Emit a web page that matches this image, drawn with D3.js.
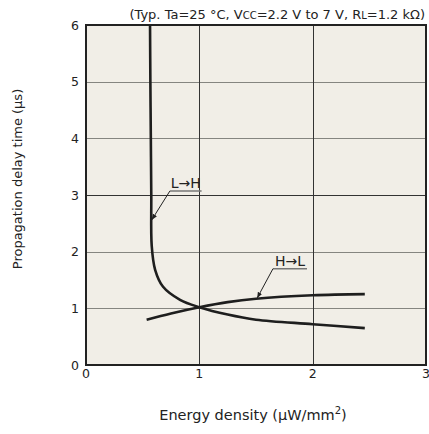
<!DOCTYPE html>
<html lang="en">
<head>
<meta charset="UTF-8">
<title>Propagation delay vs energy density</title>
<script src="https://d3js.org/d3.v7.min.js"></script>
<style>
 body { margin: 0; background: #fff; font-family: "DejaVu Sans", Verdana, sans-serif; }
 text { fill: #222; }
</style>
</head>
<body>
<div id="chart"></div>
<script>
// curve data
const lhX = [0.565, 0.568, 0.572, 0.576, 0.58, 0.61, 0.68, 0.83, 1.0, 1.25, 1.5, 2.0, 2.46];
const lhY = [6.0, 5.0, 4.0, 3.0, 2.1, 1.68, 1.38, 1.15, 1.02, 0.89, 0.8, 0.72, 0.65];
const hlX = [0.535, 0.75, 1.0, 1.25, 1.5, 2.0, 2.46];
const hlY = [0.80, 0.91, 1.02, 1.11, 1.17, 1.23, 1.25];
const xTicks = [0, 1, 2, 3];
const yTicks = [0, 1, 2, 3, 4, 5, 6];

const width = 429, height = 434;
const margin = { left: 86, right: 3, top: 25, bottom: 69 };

const svg = d3.select('#chart').append('svg')
  .attr('width', width)
  .attr('height', height);

const x = d3.scaleLinear().domain([0, 3]).range([margin.left, width - margin.right]);
const y = d3.scaleLinear().domain([0, 6]).range([height - margin.bottom, margin.top]);

// plot background
svg.append('rect')
  .attr('x', x(0)).attr('y', y(6))
  .attr('width', x(3) - x(0)).attr('height', y(0) - y(6))
  .attr('fill', '#f1eee7');

// grid
svg.selectAll('.hgrid')
  .data(yTicks.slice(1, -1))
  .enter().append('line')
  .attr('x1', x(0)).attr('x2', x(3))
  .attr('y1', d => Math.round(y(d)) + 0.5)
  .attr('y2', d => Math.round(y(d)) + 0.5)
  .attr('stroke', d => d === 3 ? '#333' : '#858580')
  .attr('stroke-width', 1.2);

svg.selectAll('.vgrid')
  .data(xTicks.slice(1, -1))
  .enter().append('line')
  .attr('y1', y(0)).attr('y2', y(6))
  .attr('x1', d => Math.round(x(d)) + 0.5)
  .attr('x2', d => Math.round(x(d)) + 0.5)
  .attr('stroke', '#333')
  .attr('stroke-width', 1);

// frame
svg.append('rect')
  .attr('x', x(0)).attr('y', y(6))
  .attr('width', x(3) - x(0)).attr('height', y(0) - y(6))
  .attr('fill', 'none')
  .attr('stroke', '#222')
  .attr('stroke-width', 2);

// tick labels
svg.selectAll('.ylab')
  .data(yTicks)
  .enter().append('text')
  .attr('x', x(0) - 7)
  .attr('y', d => y(d) + 4.5)
  .attr('text-anchor', 'end')
  .attr('font-size', 12.5)
  .text(d => d);

svg.selectAll('.xlab')
  .data(xTicks)
  .enter().append('text')
  .attr('x', d => x(d))
  .attr('y', y(0) + 13)
  .attr('text-anchor', 'middle')
  .attr('font-size', 12.5)
  .text(d => d);

// axis titles
svg.append('text')
  .attr('transform', `translate(22,${(90 + 268) / 2}) rotate(-90)`)
  .attr('text-anchor', 'middle')
  .attr('font-size', 13)
  .text('Propagation delay time (μs)');

const xt = svg.append('text')
  .attr('x', 253)
  .attr('y', 420)
  .attr('text-anchor', 'middle')
  .attr('font-size', 14.5);
xt.append('tspan').text('Energy density (μW/mm');
xt.append('tspan').attr('dy', -6).attr('font-size', 10).text('2');
xt.append('tspan').attr('dy', 6).text(')');

// condition note
const note = svg.append('text')
  .attr('x', x(3) - 1)
  .attr('y', 19)
  .attr('text-anchor', 'end')
  .attr('font-size', 13);
note.append('tspan').text('(Typ. Ta=25 °C, V');
note.append('tspan').attr('font-size', 10).text('CC');
note.append('tspan').text('=2.2 V to 7 V, R');
note.append('tspan').attr('font-size', 10).text('L');
note.append('tspan').text('=1.2 kΩ)');

// curves
const line = d3.line()
  .x(d => x(d[0]))
  .y(d => y(d[1]))
  .curve(d3.curveCatmullRom.alpha(0.5));

svg.append('path')
  .datum(d3.zip(lhX, lhY))
  .attr('d', line)
  .attr('fill', 'none')
  .attr('stroke', '#1e1e1e')
  .attr('stroke-width', 2.6);

svg.append('path')
  .datum(d3.zip(hlX, hlY))
  .attr('d', line)
  .attr('fill', 'none')
  .attr('stroke', '#1e1e1e')
  .attr('stroke-width', 2.6);

// annotation leaders
svg.append('defs').append('marker')
  .attr('id', 'arr')
  .attr('viewBox', '0 0 10 10')
  .attr('refX', 10).attr('refY', 5)
  .attr('markerWidth', 6).attr('markerHeight', 6)
  .attr('orient', 'auto')
  .append('path')
  .attr('d', 'M0,1 L10,5 L0,9 Z')
  .attr('fill', '#222');

const notes = [
  { label: 'L→H', x0: 0.74, x1: 1.02, yv: 3.07, tx: 0.58, ty: 2.56 },
  { label: 'H→L', x0: 1.65, x1: 1.95, yv: 1.70, tx: 1.51, ty: 1.18 }
];

notes.forEach(n => {
  svg.append('line')
    .attr('x1', x(n.x0)).attr('x2', x(n.x1))
    .attr('y1', y(n.yv)).attr('y2', y(n.yv))
    .attr('stroke', '#777').attr('stroke-width', 1.5);
  svg.append('line')
    .attr('x1', x(n.x0)).attr('y1', y(n.yv))
    .attr('x2', x(n.tx)).attr('y2', y(n.ty))
    .attr('stroke', '#222').attr('stroke-width', 1)
    .attr('marker-end', 'url(#arr)');
  svg.append('text')
    .attr('x', (x(n.x0) + x(n.x1)) / 2)
    .attr('y', y(n.yv) - 3)
    .attr('text-anchor', 'middle')
    .attr('font-size', 14)
    .text(n.label);
});
</script>
</body>
</html>
